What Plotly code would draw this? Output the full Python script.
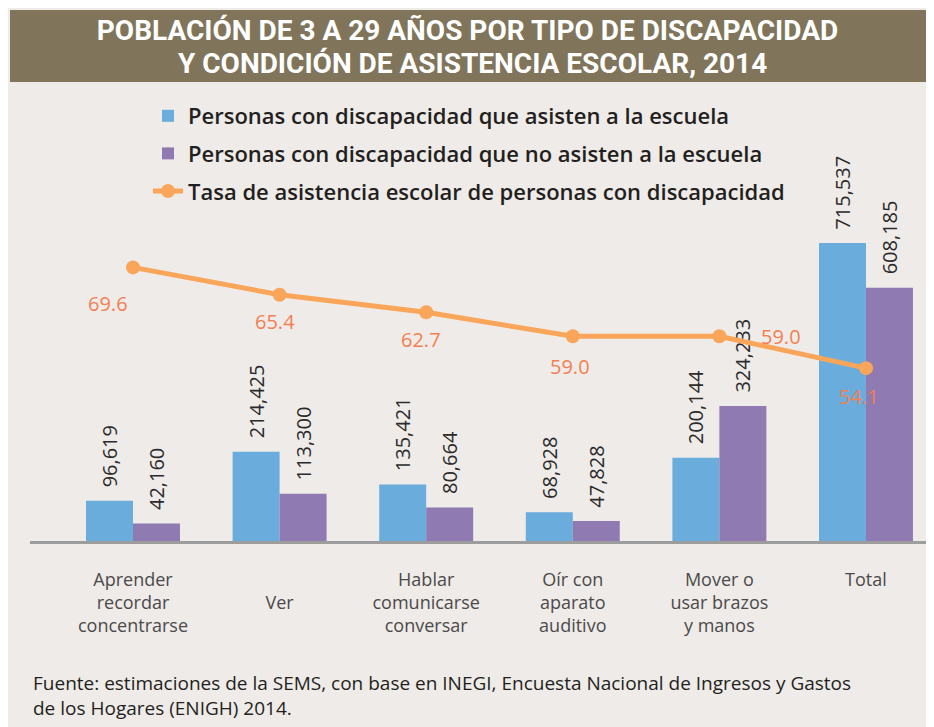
import plotly.graph_objects as go

# ---- data ----
categories = [
    "Aprender<br>recordar<br>concentrarse",
    " <br>Ver",
    "Hablar<br>comunicarse<br>conversar",
    "Oír con<br>aparato<br>auditivo",
    "Mover o<br>usar brazos<br>y manos",
    "Total",
]
asisten = [96619, 214425, 135421, 68928, 200144, 715537]
no_asisten = [42160, 113300, 80664, 47828, 324233, 608185]
tasa = [69.6, 65.4, 62.7, 59.0, 59.0, 54.1]

series_names = [
    "Personas con discapacidad que asisten a la escuela",
    "Personas con discapacidad que no asisten a la escuela",
    "Tasa de asistencia escolar de personas con discapacidad",
]

title_line1 = "POBLACIÓN DE 3 A 29 AÑOS POR TIPO DE DISCAPACIDAD"
title_line2 = "Y CONDICIÓN DE ASISTENCIA ESCOLAR, 2014"
source_text = ("Fuente: estimaciones de la SEMS, con base en INEGI, Encuesta Nacional de Ingresos y Gastos<br>"
               "de los Hogares (ENIGH) 2014.")

# ---- style ----
BG = "#efebe8"
BLUE = "#6aacdc"
PURPLE = "#907ab2"
ORANGE = "#f9a65a"
ORANGE_TXT = "#f47f52"
BANNER = "#80755a"
FONT = "Open Sans"
TITLE_FONT = "Roboto"

# label offsets (pixels) for the rate labels
rate_label_shift = [(-25, -36), (-5, -27), (-5, -27), (-3, -30), (62, 0), (-7, -28)]

PAGE_OFF = 8  # body margin of the html page
W, H = 926, 719
L, R, T, B = 22, 0, 82, 186
pw = W - L - R
ph = H - T - B


def px_x(p):  # page pixel -> paper x
    return (p - PAGE_OFF - L) / pw


def px_y(p):  # page pixel -> paper y
    return (H - B - (p - PAGE_OFF)) / ph


fig = go.Figure()

bar_text = "\u00a0\u00a0%{y:,}"
fig.add_trace(go.Bar(
    x=categories, y=asisten, name=series_names[0],
    marker=dict(color=BLUE, line=dict(width=0)),
    texttemplate=bar_text, textposition="outside", textangle=-90,
    textfont=dict(family=FONT, size=20, color="#2b2b2b"),
    constraintext="none", cliponaxis=False, legendgroup="a",
))
fig.add_trace(go.Bar(
    x=categories, y=no_asisten, name=series_names[1],
    marker=dict(color=PURPLE, line=dict(width=0)),
    texttemplate=bar_text, textposition="outside", textangle=-90,
    textfont=dict(family=FONT, size=20, color="#2b2b2b"),
    constraintext="none", cliponaxis=False, legendgroup="b",
))
fig.add_trace(go.Scatter(
    x=categories, y=tasa, name=series_names[2], yaxis="y2",
    mode="lines+markers",
    line=dict(color=ORANGE, width=5),
    marker=dict(color=ORANGE, size=14),
    cliponaxis=False, legendgroup="c",
))

annotations = []
for cat, v, (dx, dy) in zip(categories, tasa, rate_label_shift):
    annotations.append(dict(
        x=cat, y=v, xref="x", yref="y2", text=f"{v:.1f}", showarrow=False,
        xshift=dx, yshift=dy, xanchor="center", yanchor="middle",
        font=dict(family=FONT, size=20, color=ORANGE_TXT),
    ))

annotations.append(dict(
    text=title_line2, xref="paper", yref="paper",
    x=px_x(472), y=px_y(63.5), xanchor="center", yanchor="middle",
    showarrow=False, font=dict(family=TITLE_FONT, size=28, color="white", weight="bold"),
))
annotations.append(dict(
    text=source_text, xref="paper", yref="paper",
    x=px_x(31), y=px_y(695), xanchor="left", yanchor="middle",
    align="left", showarrow=False,
    font=dict(family=FONT, size=19, color="#231f20"),
))

fig.update_layout(
    width=W, height=H,
    margin=dict(l=L, r=R, t=T, b=B),
    paper_bgcolor=BG, plot_bgcolor=BG,
    barmode="group", bargap=0.359, bargroupgap=0,
    font=dict(family=FONT, color="#231f20"),
    title=dict(text=title_line1, x=(467.5 - PAGE_OFF) / W, xref="container",
               xanchor="center",
               y=1 - (30.5 - PAGE_OFF) / H, yref="container", yanchor="middle",
               font=dict(family=TITLE_FONT, size=28, color="white", weight="bold")),
    xaxis=dict(
        range=[-0.7026, 5.464], showgrid=False, zeroline=False,
        showline=True, linecolor="#9d9d9d", linewidth=3,
        ticks="outside", ticklen=20, tickcolor=BG,
        tickfont=dict(family=FONT, size=18, color="#4a4a4a"),
    ),
    yaxis=dict(range=[0, 1083000], visible=False, showgrid=False, zeroline=False),
    yaxis2=dict(range=[27.5, 96.9], overlaying="y", visible=False,
                showgrid=False, zeroline=False),
    showlegend=True,
    legend=dict(
        x=px_x(148), y=px_y(95), xanchor="left", yanchor="top",
        bgcolor="rgba(0,0,0,0)", traceorder="grouped", tracegroupgap=6,
        font=dict(family=FONT, size=22, color="#231f20", weight=600),
        itemwidth=30,
    ),
    shapes=[
        dict(type="rect", xref="paper", yref="paper", layer="below",
             x0=px_x(10), x1=px_x(950), y0=px_y(82), y1=px_y(10),
             fillcolor=BANNER, line=dict(width=0)),
    ],
    annotations=annotations,
)

fig.write_html("out.html")
